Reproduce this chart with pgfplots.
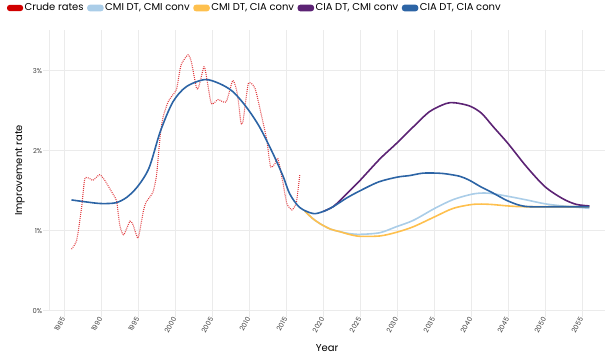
\documentclass[border=0pt]{standalone}
\usepackage{fontspec}
\setmainfont{Poppins}
\usepackage{pgfplots}
\pgfplotsset{compat=1.18}
\definecolor{crude}{HTML}{E03A3E}
\definecolor{crudeleg}{HTML}{D00000}
\definecolor{lblue}{HTML}{AACDE8}
\definecolor{yel}{HTML}{FEC04E}
\definecolor{purp}{HTML}{5C2374}
\definecolor{dblue}{HTML}{2C64A5}
\definecolor{gridc}{HTML}{EBEBEB}
\begin{document}
\begin{tikzpicture}
\useasboundingbox (-49.3pt,-51.3pt) rectangle (557.7pt,310.7pt);
\begin{axis}[
  scale only axis, width=555.7pt, height=280.7pt,
  xmin=1983, xmax=2058.1, ymin=0, ymax=3.51,
  axis x line=bottom, axis y line=left,
  axis line style={draw=gridc, line width=0.8pt, -},
  grid=major, major grid style={draw=gridc, line width=0.8pt},
  tick style={draw=gridc, line width=0.8pt},
  tick align=outside, major tick length=6pt,
  xtick={1985,1990,...,2055}, ytick={0,1,2,3},
  yticklabel={\pgfmathprintnumber{\tick}\%},
  /pgf/number format/assume math mode=true,
  /pgf/number format/1000 sep={},
  ticklabel style={font=\fontsize{6.8}{8}\selectfont, text=black!75},
  xticklabel style={rotate=60, anchor=east, inner sep=1pt},
  yticklabel style={anchor=east, inner sep=1pt},
  xlabel={Year}, ylabel={Improvement rate},
  every axis x label/.style={at={([yshift=-37.3pt]axis description cs:0.5,0)}, anchor=center, font=\fontsize{10}{12}\selectfont},
  every axis y label/.style={at={([xshift=-29.3pt]axis description cs:0,0.5)}, rotate=90, anchor=center, font=\fontsize{10}{12}\selectfont},
  legend image code/.code={\fill[solid, rounded corners=2.4pt] (0pt,-2.6pt) rectangle (15pt,2.6pt);},
  legend columns=-1,
  legend style={draw=none, fill=none, inner sep=0pt, outer sep=0pt,
    at={([xshift=-42.3pt,yshift=22pt]axis description cs:0,1)}, anchor=west,
    font=\fontsize{10}{12}\selectfont,
    nodes={inner xsep=1.5pt, inner ysep=0pt},
    /tikz/every even column/.append style={column sep=2pt}},
  clip=false,
]
\addplot[color=crude, line width=1.1pt, dash pattern=on 0.9pt off 1.1pt, smooth, tension=0.35,
  legend image code/.code={\fill[crudeleg, solid, rounded corners=2.4pt] (0pt,-2.6pt) rectangle (15pt,2.6pt);}] coordinates {
(1986.0,0.77) (1986.7,0.88) (1987.35,1.28) (1987.8,1.65) (1988.5,1.65) (1988.9,1.63)
(1989.8,1.70) (1990.5,1.63) (1991.4,1.49) (1992.1,1.37) (1992.5,1.08) (1992.9,0.96)
(1993.15,0.96) (1993.9,1.12) (1994.3,1.08) (1995.0,0.91) (1995.7,1.24) (1996.1,1.36)
(1997.0,1.48) (1997.5,1.70) (1998.0,2.20) (1998.4,2.43) (1999.05,2.61) (1999.7,2.70)
(2000.2,2.77) (2000.8,3.07) (2001.75,3.20) (2002.2,3.11) (2002.9,2.78) (2003.2,2.80)
(2003.9,3.05) (2004.2,2.95) (2004.9,2.59) (2005.8,2.64) (2006.9,2.61) (2007.8,2.88)
(2008.4,2.72) (2008.9,2.35) (2009.2,2.38) (2009.9,2.84) (2010.8,2.78) (2011.7,2.43)
(2012.4,2.13) (2012.9,1.80) (2013.5,1.84) (2013.9,1.90) (2014.6,1.59) (2015.1,1.34)
(2015.8,1.26) (2016.4,1.36) (2016.85,1.70)
};
\addlegendentry{Crude rates}
\addplot[color=lblue, line width=1.6pt, smooth, tension=0.5] coordinates {
(2017.5,1.25) (2018.5,1.16) (2019.55,1.09) (2021,1.02) (2022.2,0.99) (2023.5,0.965)
(2025,0.955) (2027.66,0.975) (2029.9,1.05) (2032.2,1.13) (2035.1,1.28) (2037.6,1.39)
(2040.3,1.46) (2042.3,1.47) (2045,1.43) (2047.5,1.385) (2050.1,1.335) (2052.9,1.305) (2056,1.28)
};
\addlegendentry{CMI DT, CMI conv}
\addplot[color=yel, line width=1.6pt, smooth, tension=0.5] coordinates {
(2017.5,1.25) (2018.5,1.16) (2019.55,1.09) (2021,1.02) (2022.2,0.99) (2023.5,0.955)
(2025,0.93) (2027.7,0.935) (2029.9,0.98) (2032.2,1.05) (2035.1,1.175) (2037.6,1.28)
(2040.3,1.33) (2042.5,1.33) (2045,1.31) (2047.5,1.30) (2056,1.30)
};
\addlegendentry{CMI DT, CIA conv}
\addplot[color=purp, line width=1.6pt, smooth, tension=0.5] coordinates {
(2020,1.24) (2021.35,1.30) (2022.3,1.38) (2023.4,1.48) (2025,1.63) (2027.7,1.90) (2029.9,2.09)
(2032.2,2.30) (2034.4,2.49) (2036.6,2.59) (2037.8,2.60) (2039.8,2.56) (2041.4,2.47)
(2043,2.30) (2045,2.09) (2047.5,1.80) (2050,1.55) (2052.4,1.40) (2054.2,1.33) (2056,1.31)
};
\addlegendentry{CIA DT, CMI conv}
\addplot[color=dblue, line width=1.6pt, smooth, tension=0.5] coordinates {
(1986,1.385) (1988,1.36) (1990,1.34) (1992,1.35) (1993.5,1.42) (1995,1.56) (1996.5,1.79)
(1998,2.24) (1999.7,2.61) (2001.5,2.80) (2004,2.89) (2006,2.84) (2007.8,2.74) (2009.6,2.55)
(2011.4,2.30) (2013.2,1.97) (2014.6,1.68) (2015.5,1.46) (2016.85,1.29) (2018.65,1.215)
(2020,1.24) (2021.35,1.30) (2023.2,1.41) (2025,1.50) (2027.5,1.61) (2030,1.67) (2031.7,1.69)
(2033.5,1.72) (2035.5,1.72) (2036.7,1.71) (2038.5,1.68) (2039.8,1.63) (2041.3,1.55)
(2043,1.47) (2044.8,1.38) (2046.5,1.32) (2048,1.30) (2052,1.30) (2056,1.30)
};
\addlegendentry{CIA DT, CIA conv}
\end{axis}
\end{tikzpicture}
\end{document}
